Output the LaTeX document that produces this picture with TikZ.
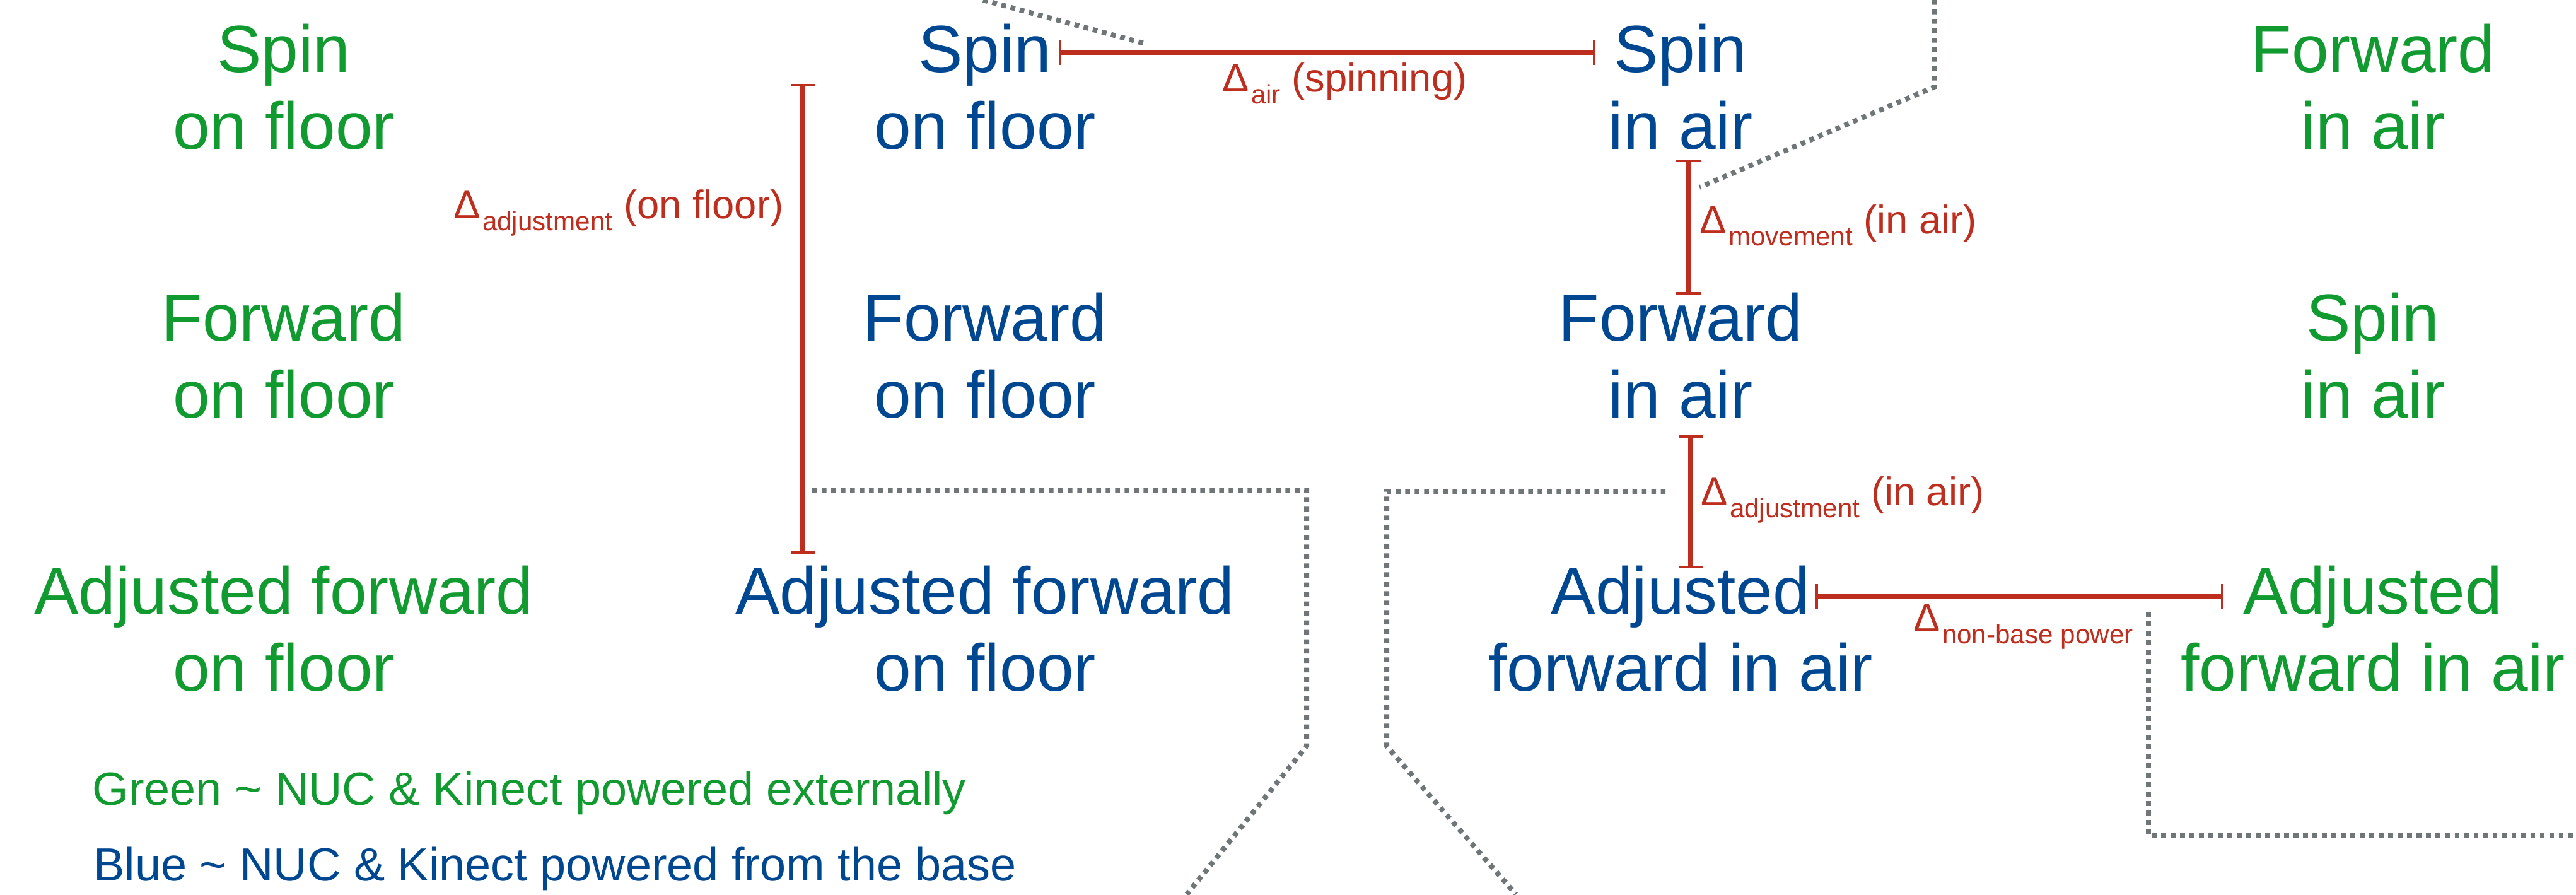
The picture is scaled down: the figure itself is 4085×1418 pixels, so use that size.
\documentclass[tikz,border=0pt]{standalone}
\usepackage{fontspec}
\setmainfont{Liberation Sans}
\usetikzlibrary{arrows.meta}
\definecolor{cgreen}{RGB}{16,154,48}
\definecolor{cblue}{RGB}{0,71,145}
\definecolor{cred}{RGB}{190,46,30}
\definecolor{cgray}{RGB}{112,117,119}
\newcommand{\twoline}[2]{\begin{tabular}[t]{@{}c@{}}#1\\#2\end{tabular}}
\newcommand{\dsub}[1]{\kern0.03cm\raisebox{-0.19cm}{\fontsize{12pt}{12pt}\selectfont #1}}
\begin{document}
\begin{tikzpicture}[x=0.01cm,y=-0.01cm,
  state/.style={inner sep=0pt, anchor=base, font=\fontsize{30pt}{34.71pt}\selectfont},
  gstate/.style={state, text=cgreen},
  bstate/.style={state, text=cblue},
  lab/.style={inner sep=0pt, text=cred, font=\fontsize{18pt}{21pt}\selectfont},
  legend/.style={inner sep=0pt, anchor=base west, font=\fontsize{21pt}{25pt}\selectfont},
  dim/.style={draw=cred, line width=0.075cm, arrows={Bar[width=0.39cm,line width=0.04cm]-Bar[width=0.39cm,line width=0.04cm]}},
  dots/.style={draw=cgray, line width=0.08cm, dash pattern=on 0.075cm off 0.075cm}]
\useasboundingbox (0,0) rectangle (4085,1418);

% column 1 (green)
\node[gstate] (g1a) at (450,114) {\twoline{Spin}{on floor}};
\node[gstate] (g1b) at (450,540) {\twoline{Forward}{on floor}};
\node[gstate] (g1c) at (450,973) {\twoline{Adjusted forward}{on floor}};
% column 2 (blue)
\node[bstate] (b2a) at (1562,114) {\twoline{Spin}{on floor}};
\node[bstate] (b2b) at (1562,540) {\twoline{Forward}{on floor}};
\node[bstate] (b2c) at (1562,973) {\twoline{Adjusted forward}{on floor}};
% column 3 (blue)
\node[bstate] (b3a) at (2665,114) {\twoline{Spin}{in air}};
\node[bstate] (b3b) at (2665,540) {\twoline{Forward}{in air}};
\node[bstate] (b3c) at (2665,973) {\twoline{Adjusted}{forward in air}};
% column 4 (green)
\node[gstate] (g4a) at (3763,114) {\twoline{Forward}{in air}};
\node[gstate] (g4b) at (3763,540) {\twoline{Spin}{in air}};
\node[gstate] (g4c) at (3763,973) {\twoline{Adjusted}{forward in air}};

% legend
\node[legend, text=cgreen] (leg1) at (146,1276) {Green \textasciitilde{} NUC \& Kinect powered externally};
\node[legend, text=cblue] (leg2) at (148,1396) {Blue \textasciitilde{} NUC \& Kinect powered from the base};

% dimension bars
\coordinate (d1a) at (1679,83.5);
\coordinate (d1b) at (2530,83.5);
\coordinate (d2a) at (1273,133);
\coordinate (d2b) at (1273,878);
\coordinate (d3a) at (2677,253);
\coordinate (d3b) at (2677,467);
\coordinate (d4a) at (2681,690);
\coordinate (d4b) at (2681,901);
\coordinate (d5a) at (2879,945);
\coordinate (d5b) at (3526,945);
\draw[dim] (d1a) -- (d1b);
\draw[dim] (d2a) -- (d2b);
\draw[dim] (d3a) -- (d3b);
\draw[dim] (d4a) -- (d4b);
\draw[dim] (d5a) -- (d5b);

% red labels
\node[lab, anchor=base west] (l1) at (1938,145) {Δ\dsub{air} (spinning)};
\node[lab, anchor=base east] (l2) at (1243,346) {Δ\dsub{adjustment} (on floor)};
\node[lab, anchor=base west] (l3) at (2695,370) {Δ\dsub{movement} (in air)};
\node[lab, anchor=base west] (l4) at (2697,801) {Δ\dsub{adjustment} (in air)};
\node[lab, anchor=base west] (l5) at (3034,1001) {Δ\dsub{non-base power}};

% gray dotted call-out lines
\coordinate (p1a) at (1559,0);
\coordinate (p1b) at (1819,70);
\draw[dots] (p1a) -- (p1b);
\coordinate (p2a) at (3067,0);
\coordinate (p2b) at (3067,138);
\coordinate (p2c) at (2695,297);
\draw[dots] (p2a) -- (p2b) -- (p2c);
\coordinate (p3a) at (1288,777);
\coordinate (p3b) at (2072,777);
\coordinate (p3c) at (2072,1183);
\coordinate (p3d) at (1882,1418);
\draw[dots] (p3a) -- (p3b) -- (p3c) -- (p3d);
\coordinate (p4a) at (2641,779);
\coordinate (p4b) at (2199,779);
\coordinate (p4c) at (2199,1183);
\coordinate (p4d) at (2404,1418);
\draw[dots] (p4a) -- (p4b) -- (p4c) -- (p4d);
\coordinate (p5a) at (3407,970);
\coordinate (p5b) at (3407,1325);
\coordinate (p5c) at (4085,1325);
\draw[dots] (p5a) -- (p5b) -- (p5c);
\end{tikzpicture}
\end{document}
